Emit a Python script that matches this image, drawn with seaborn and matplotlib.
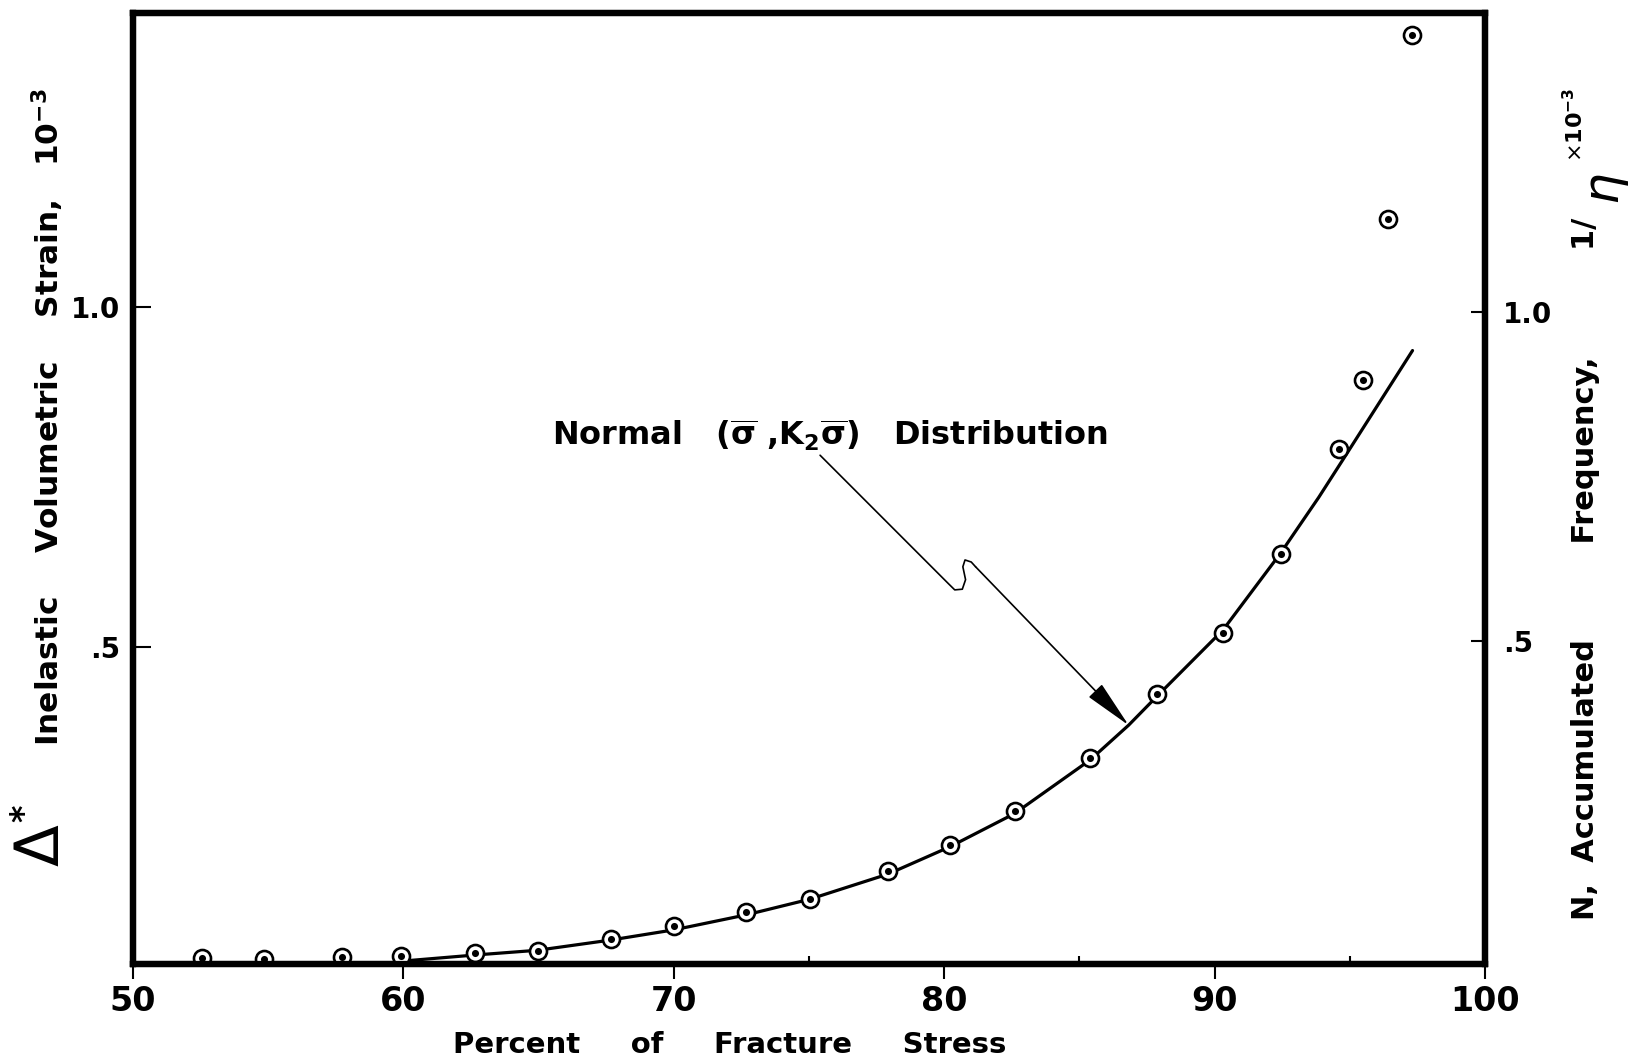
import matplotlib
matplotlib.use("Agg")
import matplotlib.pyplot as plt
import numpy as np
import pandas as pd
import seaborn as sns

# ---- data ----
stress_pct = [52.56, 54.84, 57.74, 59.92, 62.64, 64.96, 67.66, 70.00, 72.67, 75.02,
              77.92, 80.20, 82.60, 85.40, 87.88, 90.31, 92.44, 94.61, 95.47, 96.40, 97.29]
strain = [0.042, 0.041, 0.044, 0.046, 0.050, 0.053, 0.071, 0.089, 0.110, 0.130,
          0.170, 0.209, 0.259, 0.337, 0.431, 0.520, 0.637, 0.791, 0.893, 1.129, 1.400]

curve_x = [59.94, 62.64, 64.96, 67.66, 70.00, 72.67, 75.02, 77.92, 80.20, 82.60,
           85.40, 86.82, 87.88, 90.31, 92.44, 93.85, 94.77, 97.32]
curve_y = [0.038, 0.047, 0.054, 0.069, 0.084, 0.106, 0.129, 0.166, 0.206, 0.255,
           0.334, 0.385, 0.428, 0.525, 0.638, 0.720, 0.777, 0.936]

x_ticks = [50, 60, 70, 80, 90, 100]
x_tick_labels = ["50", "60", "70", "80", "90", "100"]
x_minor = [75, 85, 95]
y_ticks = [0.5, 1.0]
y_tick_labels = [".5", "1.0"]

# annotation pointer path (data coords)
ptr_x = [75.41, 80.16, 80.39, 80.67, 80.79, 80.69, 80.77, 81.00, 81.16]
ptr_y = [0.782, 0.593, 0.584, 0.585, 0.599, 0.618, 0.628, 0.625, 0.618]
ptr_tip = (86.82, 0.385)

sns.set_theme(style="white")
plt.rcParams['font.family'] = ['DejaVu Sans']
plt.rcParams['mathtext.fontset'] = 'dejavusans'
for k in ["text.color", "axes.labelcolor", "xtick.color", "ytick.color", "axes.edgecolor"]:
    plt.rcParams[k] = "black"

fig = plt.figure(figsize=(16.31, 10.64), dpi=100)
fig.patch.set_facecolor("white")
ax = fig.add_axes([133/1631, 1-964/1064, (1485-133)/1631, (964-13)/1064])
ax.set_facecolor("white")

pts = pd.DataFrame({"x": stress_pct, "y": strain})
crv = pd.DataFrame({"x": curve_x, "y": curve_y})

sns.lineplot(data=crv, x="x", y="y", ax=ax, color="black", lw=2.3,
             sort=False, estimator=None, zorder=3)
sns.scatterplot(data=pts, x="x", y="y", ax=ax, marker="o", s=150,
                facecolor="white", edgecolor="black", linewidth=1.9, zorder=4)
sns.scatterplot(data=pts, x="x", y="y", ax=ax, marker="o", s=26,
                color="black", edgecolor="black", linewidth=0, zorder=5)

ax.set_xlim(50, 100)
ax.set_ylim(0.0338, 1.4324)
ax.set_xlabel("")
ax.set_ylabel("")

for sp in ax.spines.values():
    sp.set_visible(True)
    sp.set_color("black")
    sp.set_linewidth(4.5)

ax.set_xticks(x_ticks)
ax.set_xticklabels(x_tick_labels, fontsize=24, fontweight="bold")
ax.set_xticks(x_minor, minor=True)
ax.tick_params(axis="x", which="major", direction="out", length=11, width=1.5,
               pad=4, bottom=True, colors="black")
ax.tick_params(axis="x", which="minor", direction="in", length=6, width=1.5,
               bottom=True, colors="black")
ax.set_yticks(y_ticks)
ax.set_yticklabels(y_tick_labels, fontsize=20, fontweight="bold")
ax.tick_params(axis="y", which="major", direction="in", length=13, width=1.5,
               pad=9, left=True, colors="black")

# right axis
ax2 = ax.twinx()
ax2.set_ylim(0.0091, 1.4544)
ax2.set_yticks(y_ticks)
ax2.set_yticklabels(y_tick_labels, fontsize=20, fontweight="bold")
ax2.tick_params(axis="y", direction="in", length=10, width=1.5, pad=13, right=True,
                colors="black")
ax2.grid(False)
for sp in ax2.spines.values():
    sp.set_linewidth(4.5)
    sp.set_color("black")

# annotation
ax.text(75.79, 0.812,
        r"Normal   ($\mathbf{\overline{\sigma}}$ ,K$_\mathbf{2}$$\mathbf{\overline{\sigma}}$)   Distribution",
        fontsize=23, fontweight="bold", ha="center", va="center")
ax.plot(ptr_x, ptr_y, color="black", lw=1.2, zorder=3)
ax.annotate("", xy=ptr_tip, xytext=(ptr_x[-1], ptr_y[-1]),
            arrowprops=dict(arrowstyle="-|>,head_length=1.7,head_width=0.32",
                            color="black", lw=1.2,
                            mutation_scale=18, shrinkA=0, shrinkB=0))

# axis labels
ax.text((730 - 133) / 1352, -0.0852, "Percent     of     Fracture     Stress",
        transform=ax.transAxes, fontsize=21, fontweight="bold",
        ha="center", va="center")
ax.text(-0.0629, 0.575,
        r"Inelastic    Volumetric    Strain,   10$^{\mathbf{-3}}$",
        transform=ax.transAxes, rotation=90, fontsize=22.5, fontweight="bold",
        ha="center", va="center")
ax.text(-0.0673, 0.125, "Δ", transform=ax.transAxes, rotation=90,
        fontsize=44, fontweight="normal", ha="center", va="center")
ax.text(-0.080, 0.158, "*", transform=ax.transAxes, rotation=90,
        fontsize=24, fontweight="bold", ha="center", va="center")

ax.text(1.0747, 0.0463, "N,  Accumulated         Frequency,          1/",
        transform=ax.transAxes, rotation=90, fontsize=22, fontweight="bold",
        ha="center", va="bottom")
ax.text(1.090, 0.815, r"$\eta$", transform=ax.transAxes, rotation=90,
        fontsize=36, ha="center", va="center")
ax.text(1.066, 0.882, r"$\times\mathbf{10^{-3}}$", transform=ax.transAxes, rotation=90,
        fontsize=16, ha="center", va="center")

fig.savefig("out.png", dpi=100, facecolor="white")
